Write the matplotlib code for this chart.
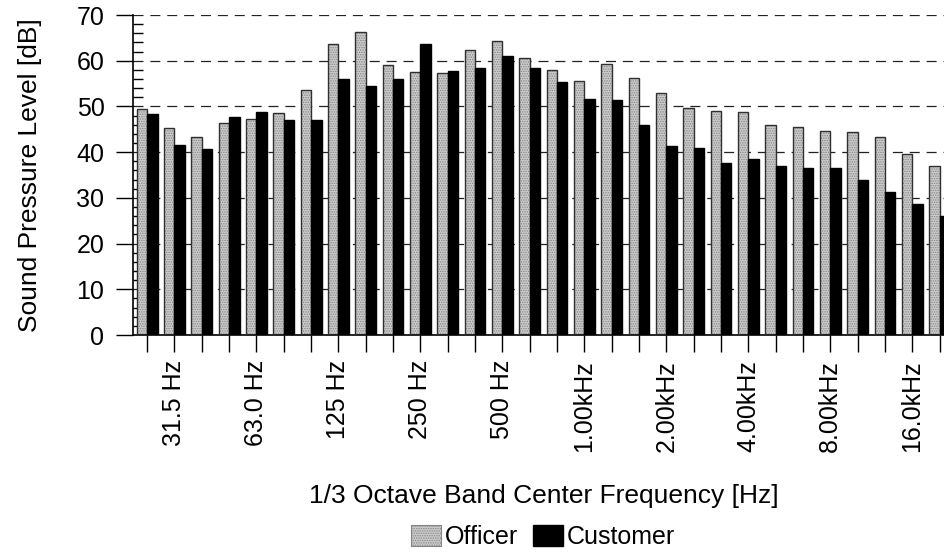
import matplotlib.pyplot as plt
from matplotlib.patches import Patch
import numpy as np

plt.rcParams['font.family'] = ['Liberation Sans', 'DejaVu Sans']
plt.rcParams['hatch.linewidth'] = 0.7

# 1/3 octave bands, 25 Hz .. 20 kHz
bands = ['25', '31.5 Hz', '40', '50', '63.0 Hz', '80', '100', '125 Hz', '160', '200',
         '250 Hz', '315', '400', '500 Hz', '630', '800', '1.00kHz', '1.25k', '1.6k',
         '2.00kHz', '2.5k', '3.15k', '4.00kHz', '5k', '6.3k', '8.00kHz', '10k',
         '12.5k', '16.0kHz', '20k']
shown = [1, 4, 7, 10, 13, 16, 19, 22, 25, 28]

officer = [49.4, 45.3, 43.4, 46.4, 47.2, 48.6, 53.5, 63.6, 66.2, 59.1,
           57.5, 57.4, 62.4, 64.3, 60.5, 58.0, 55.6, 59.3, 56.3, 53.0,
           49.6, 48.9, 48.7, 45.9, 45.6, 44.6, 44.4, 43.3, 39.7, 37.0]
customer = [48.3, 41.6, 40.6, 47.7, 48.8, 47.0, 47.1, 55.9, 54.5, 55.9,
            63.7, 57.8, 58.3, 61.0, 58.3, 55.3, 51.6, 51.3, 45.9, 41.4,
            41.0, 37.6, 38.4, 37.0, 36.5, 36.5, 34.0, 31.3, 28.7, 26.0]

x = np.arange(len(bands))
w = 0.38

fig = plt.figure(figsize=(9.45, 5.52), dpi=100)
ax = fig.add_axes([0.1407, 0.3931, 0.897, 0.5797])

ax.set_axisbelow(True)
ax.yaxis.grid(True, linestyle=(0, (8, 5.5)), color='#222222', linewidth=0.9)

# officer: dotted grey fill, then a dark outline
ax.bar(x - w/2, officer, w, facecolor='#cccccc', hatch='.......',
       edgecolor='#858585', linewidth=0, zorder=2)
ax.bar(x - w/2, officer, w, fill=False, edgecolor='#303030', linewidth=1.0, zorder=3)
ax.bar(x + w/2, customer, w, color='black', edgecolor='black', linewidth=1.0, zorder=3)

ax.set_xlim(-0.52, 30.5)
ax.set_ylim(0, 70)
ax.set_yticks(range(0, 71, 10))
ax.set_yticks(range(0, 71, 2), minor=True)
ax.set_xticks(x)
ax.set_xticklabels([b if i in shown else '' for i, b in enumerate(bands)],
                   rotation=90, fontsize=18)

ax.tick_params(axis='y', which='major', direction='out', length=12, width=1,
               labelsize=18, pad=8.5)
ax.tick_params(axis='y', which='minor', direction='in', length=7, width=1)
ax.tick_params(axis='x', direction='out', length=12, width=1, pad=6)

for s in ['top', 'right']:
    ax.spines[s].set_visible(False)
ax.spines['left'].set_linewidth(1.2)
ax.spines['bottom'].set_linewidth(1.2)

ax.set_ylabel('Sound Pressure Level [dB]', fontsize=19, labelpad=25)
fig.text(544/945, 1 - 496/552, '1/3 Octave Band Center Frequency [Hz]',
         fontsize=19, ha='center', va='center')

handles = [Patch(facecolor='#cccccc', hatch='.......', edgecolor='#858585', linewidth=0.8),
           Patch(facecolor='black', edgecolor='black')]
fig.legend(handles, ['Officer', 'Customer'], loc='center',
           bbox_to_anchor=(543/945, 1 - 537/552), ncol=2, frameon=False,
           fontsize=18, handlelength=1.2, handleheight=0.9, handletextpad=0.15,
           columnspacing=0.6, borderpad=0.1)

fig.savefig('out.png', dpi=100)
